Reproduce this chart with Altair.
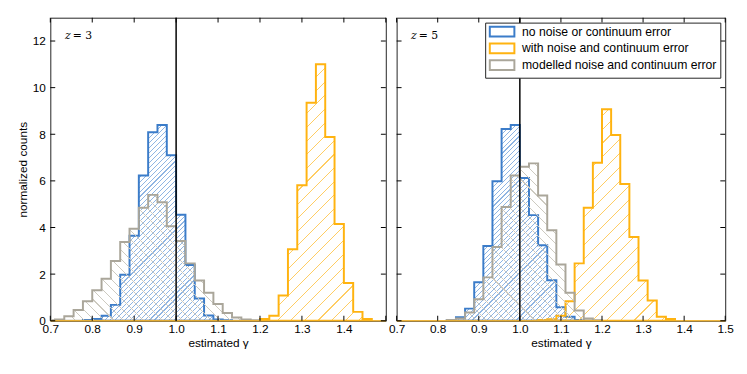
import altair as alt
import pandas as pd

# ---------------- data ----------------
BIN_W = 1 / 45            # histogram bin width in gamma
TRUE_GAMMA = 1.0
X_DOMAIN = [0.7, 1.5]
Y_DOMAIN = [0, 13]
X_TICKS = [0.7, 0.8, 0.9, 1.0, 1.1, 1.2, 1.3, 1.4, 1.5]
Y_TICKS = [0, 2, 4, 6, 8, 10, 12]

SERIES = ["no noise or continuum error",
          "with noise and continuum error",
          "modelled noise and continuum error"]
COLORS = ["#3b7cc9", "#ffb310", "#aaa69a"]
HATCH_COLORS = ["#8fb5e3", "#ffcd63", "#cdcac0"]

# first bin index (left edge = 1 + index*BIN_W) and normalized counts per bin
z3_blue_first = -10
z3_blue = [0.03, 0.07, 0.21, 0.68, 1.97, 3.65, 6.23, 8.09, 8.40, 7.10,
           4.55, 2.39, 0.95, 0.22, 0.05, 0.02]
z3_orange_first = 9
z3_orange = [0.07, 0.21, 1.08, 3.07, 5.81, 9.35, 11.0, 7.88, 4.15, 1.62, 0.38, 0.07]
z3_gray_first = -14
z3_gray = [0.02, 0.05, 0.19, 0.46, 0.84, 1.31, 1.80, 2.56, 3.38, 3.95, 4.85, 5.40,
           5.08, 4.05, 3.42, 2.46, 1.73, 1.20, 0.72, 0.33, 0.14, 0.05, 0.02]

z5_blue_first = -8
z5_blue = [0.03, 0.15, 0.52, 1.65, 3.21, 5.98, 8.23, 8.40,
           6.12, 4.53, 3.24, 1.74, 0.58, 0.17, 0.03]
z5_orange_first = 2
z5_orange = [0.03, 0.06, 0.21, 0.84, 2.46, 4.85, 6.78, 9.07, 7.97, 5.87,
             3.59, 1.73, 0.87, 0.17, 0.07]
z5_gray_first = -8
z5_gray = [0.03, 0.10, 0.35, 0.92, 1.86, 3.16, 4.88, 6.23,
           6.61, 6.75, 5.37, 3.88, 2.41, 1.20, 0.44, 0.10, 0.02]

PANELS = [
    ("3", [(z3_blue_first, z3_blue), (z3_orange_first, z3_orange), (z3_gray_first, z3_gray)]),
    ("5", [(z5_blue_first, z5_blue), (z5_orange_first, z5_orange), (z5_gray_first, z5_gray)]),
]

# ---------------- styling ----------------
H = 308
WIDTHS = [341, 334]
HATCH = [(5.0, "/"), (14.0, "/"), (10.0, "\\")]   # horizontal period in px, direction
FONT = "Liberation Sans"
FS = 12
CLEAR = "rgba(255,255,255,0)"


def hatch(w, h, period, color, direction, lw=1.1):
    s = (w + h) / (w * w + h * h)
    gx, gy = s * w, s * h
    n = max(1, int(round((w + h) / period)))
    f = min(0.5, lw / period)
    stops = []
    for i in range(n):
        a = i / n
        b = (i + f) / n
        c = (i + 1) / n
        stops += [alt.GradientStop(offset=round(a, 5), color=color),
                  alt.GradientStop(offset=round(b, 5), color=color),
                  alt.GradientStop(offset=round(b, 5), color=CLEAR),
                  alt.GradientStop(offset=round(c, 5), color=CLEAR)]
    if direction == "/":
        return alt.LinearGradient(gradient="linear", stops=stops, x1=0, y1=0, x2=gx, y2=gy)
    return alt.LinearGradient(gradient="linear", stops=stops, x1=0, y1=1, x2=gx, y2=1 - gy)


def panel(idx, zlabel, series, width):
    left = idx == 0
    common = dict(labelFont=FONT, titleFont=FONT, labelFontSize=FS, titleFontSize=FS,
                  titleFontWeight="normal", labelColor="black", titleColor="black")
    xaxis = alt.Axis(values=X_TICKS, format=".1f", ticks=False, tickSize=0, domain=False,
                     grid=False, labelPadding=3, labelFlush=False, title="estimated γ",
                     titlePadding=3,
                     labelExpr="datum.value > 1.45 ? '' : datum.label" if left else "datum.label",
                     **common)
    if left:
        yaxis = alt.Axis(values=Y_TICKS, ticks=False, tickSize=0, domain=False, grid=False,
                         labelPadding=5, title="normalized counts", titlePadding=3, **common)
    else:
        yaxis = None
    X = alt.X("gamma:Q", scale=alt.Scale(domain=X_DOMAIN, nice=False, zero=False), axis=xaxis)
    Y = alt.Y("count:Q", scale=alt.Scale(domain=Y_DOMAIN, nice=False, zero=True), axis=yaxis)

    layers = []
    for k, (first, vals) in enumerate(series):
        n = len(vals)
        xs = [1 + (first + i) * BIN_W for i in range(n + 1)]
        ys = list(vals) + [0]
        df = pd.DataFrame({"gamma": xs, "count": ys})
        wpx = n * BIN_W * width / (X_DOMAIN[1] - X_DOMAIN[0])
        hpx = max(vals) * H / (Y_DOMAIN[1] - Y_DOMAIN[0])
        period, direction = HATCH[k]
        grad = hatch(wpx, hpx, period, HATCH_COLORS[k], direction)
        layers.append(
            alt.Chart(df).mark_area(interpolate="step-after", fill=grad, stroke=COLORS[k],
                                    strokeWidth=2, strokeJoin="miter", clip=True)
            .encode(x=X, y=Y)
        )

    # zero-count bins of the histograms run along the baseline
    layers.append(alt.Chart(pd.DataFrame({"count": [0]})).mark_rule(
        color=COLORS[1], strokeWidth=1.5, opacity=0.75).encode(y=Y))

    rule = alt.Chart(pd.DataFrame({"gamma": [TRUE_GAMMA]})).mark_rule(
        color="black", strokeWidth=1.5).encode(x=X)
    layers.append(rule)

    xt = pd.DataFrame({"gamma": X_TICKS})
    yt = pd.DataFrame({"count": Y_TICKS})
    tk = dict(size=5, thickness=1, color="black", opacity=1)
    layers.append(alt.Chart(xt).mark_tick(orient="vertical", **tk).encode(x=X, y=alt.value(H - 2.5)))
    layers.append(alt.Chart(xt).mark_tick(orient="vertical", **tk).encode(x=X, y=alt.value(2.5)))
    layers.append(alt.Chart(yt).mark_tick(orient="horizontal", **tk).encode(y=Y, x=alt.value(2.5)))
    layers.append(alt.Chart(yt).mark_tick(orient="horizontal", **tk).encode(y=Y, x=alt.value(width - 2.5)))

    lab = pd.DataFrame({"gamma": [0.735], "count": [12.2]})
    layers.append(alt.Chart(lab).mark_text(text="z", font="DejaVu Serif", fontStyle="italic",
                                           fontSize=11, align="left", baseline="middle",
                                           color="black").encode(x=X, y=Y))
    layers.append(alt.Chart(lab).mark_text(text="= " + zlabel, font="DejaVu Serif",
                                           fontSize=11, align="left", baseline="middle",
                                           dx=8, color="black").encode(x=X, y=Y))

    if not left:
        leg = pd.DataFrame({"series": SERIES, "gamma": [TRUE_GAMMA] * 3, "count": [0] * 3})
        layers.append(
            alt.Chart(leg).mark_point(opacity=0, filled=False).encode(
                x=X, y=Y,
                stroke=alt.Stroke("series:N", scale=alt.Scale(domain=SERIES, range=COLORS),
                                  legend=alt.Legend(
                                      title=None, orient="top-right", offset=5,
                                      strokeColor="#222", fillColor="white", padding=3,
                                      symbolType="M-2.5,-1H2.5V1H-2.5Z", symbolSize=100,
                                      symbolStrokeWidth=2, symbolOffset=8, labelOffset=14,
                                      labelFont=FONT, labelFontSize=12.4, labelColor="black",
                                      rowPadding=-2, labelLimit=400))
            )
        )

    return alt.layer(*layers).properties(width=width, height=H)


charts = [panel(i, z, s, WIDTHS[i]) for i, (z, s) in enumerate(PANELS)]

chart = (
    alt.hconcat(*charts, spacing=0)
    .resolve_legend(stroke="independent")
    .properties(padding={"left": 8, "top": 5, "right": 5, "bottom": 5})
    .configure(background="white")
    .configure_view(stroke="#222", strokeWidth=1)
)

chart.save("out.html", embed_options={"renderer": "svg", "actions": False})
